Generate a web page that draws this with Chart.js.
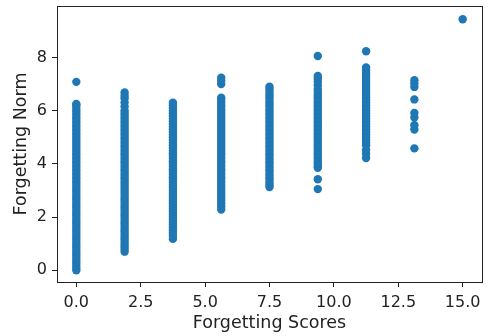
<!DOCTYPE html>
<html lang="en">
<head>
    <meta charset="UTF-8">
    <title>Forgetting Scores vs Forgetting Norm</title>
    <script src="https://cdn.jsdelivr.net/npm/chart.js"></script>
    <style>
        html, body {
            margin: 0;
            padding: 0;
            background: #ffffff;
            overflow: hidden;
        }
        .chart-box {
            width: 488px;
            height: 336px;
        }
    </style>
</head>
<body>
    <div class="chart-box">
        <canvas id="forgettingChart" width="488" height="336"></canvas>
    </div>

    <script>
        // x positions of the columns
        const forgettingScores = [0, 1.875, 3.75, 5.625, 7.5, 9.375, 11.25, 13.125, 15];

        // forgetting norm values read per column
        const norms0 = [0, 0.1, 0.2, 0.3, 0.4, 0.5, 0.6, 0.7, 0.8, 0.9, 1, 1.1, 1.2, 1.3, 1.4, 1.5, 1.6, 1.7, 1.8, 1.9,
            2, 2.1, 2.2, 2.3, 2.4, 2.5, 2.6, 2.7, 2.8, 2.9, 3, 3.1, 3.2, 3.3, 3.4, 3.5, 3.6, 3.7, 3.8, 3.9,
            4, 4.1, 4.2, 4.3, 4.4, 4.5, 4.6, 4.7, 4.8, 4.9, 5, 5.1, 5.2, 5.3, 5.4, 5.5, 5.6, 5.7, 5.8, 5.9,
            6, 6.1, 6.2, 6.25, 7.08];
        const norms1 = [0.7, 0.8, 0.9, 1, 1.1, 1.2, 1.3, 1.4, 1.5, 1.6, 1.7, 1.8, 1.9,
            2, 2.1, 2.2, 2.3, 2.4, 2.5, 2.6, 2.7, 2.8, 2.9, 3, 3.1, 3.2, 3.3, 3.4, 3.5, 3.6, 3.7, 3.8, 3.9,
            4, 4.1, 4.2, 4.3, 4.4, 4.5, 4.6, 4.7, 4.8, 4.9, 5, 5.1, 5.2, 5.3, 5.4, 5.5, 5.6, 5.7, 5.8, 5.9,
            6, 6.15, 6.3, 6.45, 6.55, 6.68];
        const norms2 = [1.18, 1.3, 1.4, 1.5, 1.6, 1.7, 1.8, 1.9,
            2, 2.1, 2.2, 2.3, 2.4, 2.5, 2.6, 2.7, 2.8, 2.9, 3, 3.1, 3.2, 3.3, 3.4, 3.5, 3.6, 3.7, 3.8, 3.9,
            4, 4.1, 4.2, 4.3, 4.4, 4.5, 4.6, 4.7, 4.8, 4.9, 5, 5.1, 5.2, 5.3, 5.4, 5.5, 5.6, 5.7, 5.8, 5.9,
            6, 6.1, 6.2, 6.3];
        const norms3 = [2.28, 2.4, 2.5, 2.6, 2.7, 2.8, 2.9, 3, 3.1, 3.2, 3.3, 3.4, 3.5, 3.6, 3.7, 3.8, 3.9,
            4, 4.1, 4.2, 4.3, 4.4, 4.5, 4.6, 4.7, 4.8, 4.9, 5, 5.1, 5.2, 5.3, 5.4, 5.5, 5.6, 5.7, 5.8, 5.9,
            6, 6.1, 6.2, 6.3, 6.4, 6.48, 7.0, 7.12, 7.24];
        const norms4 = [3.13, 3.2, 3.3, 3.4, 3.5, 3.6, 3.7, 3.8, 3.9,
            4, 4.1, 4.2, 4.3, 4.4, 4.5, 4.6, 4.7, 4.8, 4.9, 5, 5.1, 5.2, 5.3, 5.4, 5.5, 5.6, 5.7, 5.8, 5.9,
            6, 6.1, 6.2, 6.3, 6.4, 6.5, 6.6, 6.7, 6.8, 6.9];
        const norms5 = [3.05, 3.42, 3.85, 3.9,
            4, 4.1, 4.2, 4.3, 4.4, 4.5, 4.6, 4.7, 4.8, 4.9, 5, 5.1, 5.2, 5.3, 5.4, 5.5, 5.6, 5.7, 5.8, 5.9,
            6, 6.1, 6.2, 6.3, 6.4, 6.5, 6.6, 6.7, 6.8, 6.95, 7.08, 7.2, 7.3, 8.05];
        const norms6 = [4.22, 4.38, 4.52, 4.7, 4.8, 4.9, 5, 5.1, 5.2, 5.3, 5.4, 5.5, 5.6, 5.7, 5.8, 5.9,
            6, 6.1, 6.2, 6.3, 6.4, 6.5, 6.6, 6.7, 6.8, 6.9, 7, 7.1, 7.2, 7.3, 7.4, 7.52, 7.62, 8.23];
        const norms7 = [4.58, 5.29, 5.45, 5.74, 5.91, 6.42, 6.89, 7.02, 7.14];
        const norms8 = [9.43];

        const normsByScore = [norms0, norms1, norms2, norms3, norms4, norms5, norms6, norms7, norms8];

        // tick labels
        const xTicks = [0, 2.5, 5, 7.5, 10, 12.5, 15];
        const yTicks = [0, 2, 4, 6, 8];

        const points = forgettingScores.flatMap((score, i) =>
            normsByScore[i].map(norm => ({ x: score, y: norm }))
        );

        const textColor = '#222222';
        const fontFamily = '"DejaVu Sans", sans-serif';

        // matplotlib style box around the plot
        const frame = {
            id: 'frame',
            afterDraw(chart) {
                const { ctx, chartArea: a } = chart;
                ctx.save();
                ctx.strokeStyle = textColor;
                ctx.lineWidth = 1;
                ctx.strokeRect(a.left + 0.5, a.top + 0.5, a.right - a.left, a.bottom - a.top);
                ctx.restore();
            }
        };

        new Chart(document.getElementById('forgettingChart'), {
            type: 'scatter',
            data: {
                datasets: [{
                    data: points,
                    backgroundColor: '#1f77b4',
                    borderWidth: 0,
                    pointRadius: 4.2,
                    pointHoverRadius: 4.2
                }]
            },
            options: {
                responsive: false,
                animation: false,
                layout: {
                    autoPadding: false,
                    padding: { top: 6, right: 6, bottom: 0, left: 0 }
                },
                plugins: {
                    legend: { display: false },
                    tooltip: { enabled: false }
                },
                scales: {
                    x: {
                        type: 'linear',
                        min: -0.75,
                        max: 15.75,
                        afterBuildTicks: scale => { scale.ticks = xTicks.map(v => ({ value: v })); },
                        afterFit: scale => {
                            scale.height = 54;
                            scale.paddingLeft = 0;
                            scale.paddingRight = 0;
                        },
                        border: { display: false },
                        grid: { drawOnChartArea: false, drawTicks: true, tickLength: 5, color: textColor },
                        ticks: {
                            color: textColor,
                            padding: 6,
                            font: { family: fontFamily, size: 16 },
                            maxRotation: 0,
                            callback: v => v.toFixed(1)
                        },
                        title: {
                            display: true,
                            text: 'Forgetting Scores',
                            color: textColor,
                            font: { family: fontFamily, size: 17.5 },
                            padding: { top: 0, bottom: 2 }
                        }
                    },
                    y: {
                        type: 'linear',
                        min: -0.44,
                        max: 9.93,
                        afterBuildTicks: scale => { scale.ticks = yTicks.map(v => ({ value: v })); },
                        afterFit: scale => {
                            scale.width = 57;
                            scale.paddingTop = 0;
                            scale.paddingBottom = 0;
                        },
                        border: { display: false },
                        grid: { drawOnChartArea: false, drawTicks: true, tickLength: 5, color: textColor },
                        ticks: {
                            color: textColor,
                            padding: 5,
                            font: { family: fontFamily, size: 16 },
                            callback: v => String(v)
                        },
                        title: {
                            display: true,
                            text: 'Forgetting Norm',
                            color: textColor,
                            font: { family: fontFamily, size: 17.5 },
                            padding: { top: 11, bottom: 0 }
                        }
                    }
                }
            },
            plugins: [frame]
        });
    </script>
</body>
</html>
